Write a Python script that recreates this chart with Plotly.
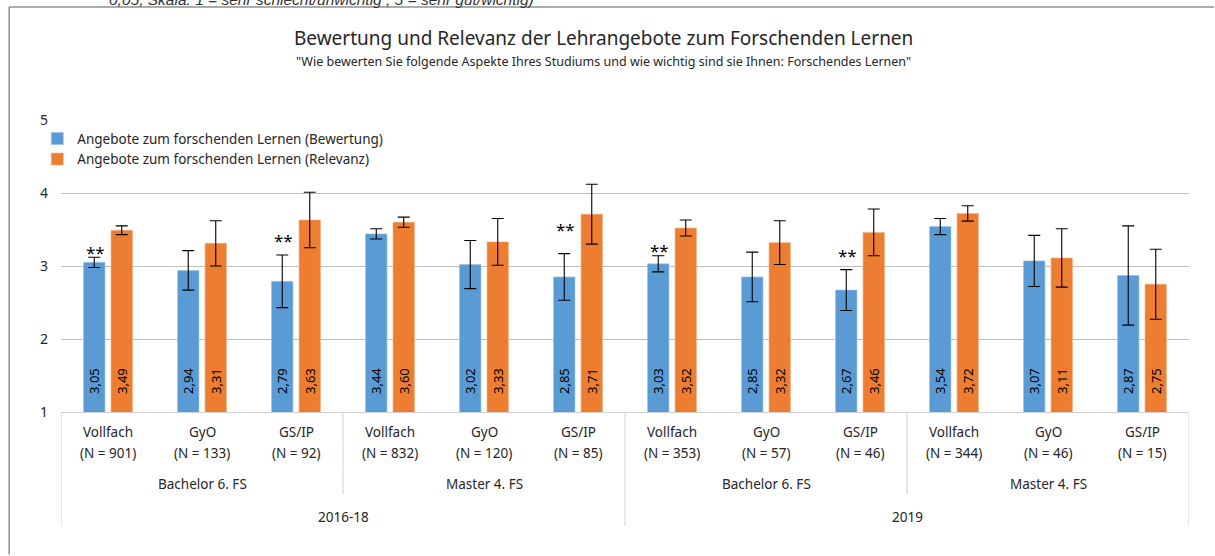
import plotly.graph_objects as go

# Daten
kategorien = ["Vollfach", "GyO", "GS/IP"] * 4
n_werte = [901, 133, 92, 832, 120, 85, 353, 57, 46, 344, 46, 15]
studiengang = ["Bachelor 6. FS", "Master 4. FS", "Bachelor 6. FS", "Master 4. FS"]
jahrgang = ["2016-18", "2019"]

bewertung = [3.05, 2.94, 2.79, 3.44, 3.02, 2.85, 3.03, 2.85, 2.67, 3.54, 3.07, 2.87]
relevanz = [3.49, 3.31, 3.63, 3.60, 3.33, 3.71, 3.52, 3.32, 3.46, 3.72, 3.11, 2.75]
bewertung_ci = [0.07, 0.27, 0.36, 0.07, 0.33, 0.32, 0.11, 0.34, 0.28, 0.11, 0.35, 0.68]
relevanz_ci = [0.06, 0.31, 0.38, 0.07, 0.32, 0.41, 0.11, 0.30, 0.32, 0.105, 0.40, 0.48]

# Signifikanz-Sterne (Höhe der Sterne über den Bewertungsbalken)
stern_y = [3.20, None, 3.36, None, None, 3.51, 3.22, None, 3.16, None, None, None]

y_ticks = [1, 2, 3, 4, 5]

BLAU = "#5B9BD5"
ORANGE = "#ED7D31"
FONT = "Noto Sans"
TEXT = "#262626"

x = list(range(len(kategorien)))


def fmt(v):
    return f"{v:.2f}".replace(".", ",")


fig = go.Figure()

fig.add_trace(go.Bar(
    x=x, y=bewertung, name="Angebote zum forschenden Lernen (Bewertung)",
    marker=dict(color=BLAU, line=dict(color="#9DC3E6", width=0.6)),
    error_y=dict(type="data", array=bewertung_ci, color="black", thickness=1.1, width=6),
))
fig.add_trace(go.Bar(
    x=x, y=relevanz, name="Angebote zum forschenden Lernen (Relevanz)",
    marker=dict(color=ORANGE, line=dict(color="#F4B183", width=0.6)),
    error_y=dict(type="data", array=relevanz_ci, color="black", thickness=1.1, width=6),
))

# Datenbeschriftungen (gedreht, am Balkenfuß)
for i in x:
    for val, shift in [(bewertung[i], -14), (relevanz[i], 14)]:
        fig.add_annotation(
            x=i, y=1, xref="x", yref="y", text=fmt(val), textangle=-90,
            showarrow=False, xshift=shift, yshift=16, yanchor="bottom", xanchor="center",
            font=dict(family=FONT, size=13, color="black"),
        )
    if stern_y[i] is not None:
        fig.add_annotation(
            x=i, y=stern_y[i], xref="x", yref="y", text="**", showarrow=False,
            xshift=-13, yshift=-1, xanchor="center", yanchor="middle",
            font=dict(family=FONT, size=17, color="black"),
        )


def achsentext(xpos, ypos, text):
    fig.add_annotation(x=xpos, y=ypos, xref="x", yref="paper", text=text,
                       showarrow=False, xanchor="center", yanchor="middle",
                       font=dict(family=FONT, size=13.5, color=TEXT))


# Kategorienachse (drei Ebenen)
for i in x:
    achsentext(i, -0.0685, kategorien[i])
    achsentext(i, -0.1394, f"(N = {n_werte[i]})")
for g, name in enumerate(studiengang):
    achsentext(g * 3 + 1, -0.2466, name)
for j, name in enumerate(jahrgang):
    achsentext(j * 6 + 2.5, -0.3596, name)

# Trennlinien
LINIE = "#D0D0D0"
for pos in [-0.5, 5.5, 11.5]:
    fig.add_shape(type="line", xref="x", yref="paper", x0=pos, x1=pos, y0=0, y1=-0.39,
                  line=dict(color=LINIE, width=1))
for pos in [2.5, 8.5]:
    fig.add_shape(type="line", xref="x", yref="paper", x0=pos, x1=pos, y0=0, y1=-0.281,
                  line=dict(color=LINIE, width=1))

# Rahmen des Diagrammbereichs (oben und links sichtbar, rechts/unten außerhalb des Bildes)
RAHMEN = dict(color="#595959", width=1)
fig.add_shape(type="line", xref="paper", yref="paper", x0=-0.046, x1=1.022, y0=1.387, y1=1.387,
              line=RAHMEN, layer="below")
fig.add_shape(type="line", xref="paper", yref="paper", x0=-0.046, x1=-0.046, y0=1.387, y1=-0.488,
              line=RAHMEN, layer="below")

# Titel und Untertitel
fig.add_annotation(x=0.481, y=1.281, xref="paper", yref="paper", showarrow=False,
                   xanchor="center", yanchor="middle",
                   text="Bewertung und Relevanz der Lehrangebote zum Forschenden Lernen",
                   font=dict(family=FONT, size=19, color=TEXT))
fig.add_annotation(x=0.481, y=1.202, xref="paper", yref="paper", showarrow=False,
                   xanchor="center", yanchor="middle",
                   text="\"Wie bewerten Sie folgende Aspekte Ihres Studiums und wie wichtig sind sie Ihnen: Forschendes Lernen\"",
                   font=dict(family=FONT, size=12.5, color=TEXT))
# abgeschnittene Fußnote oben (wie im Original angeschnitten)
fig.add_annotation(x=0.231, y=1.414, xref="paper", yref="paper", showarrow=False,
                   xanchor="center", yanchor="middle",
                   text="<i>0,05; Skala: 1 = sehr schlecht/unwichtig ; 5 = sehr gut/wichtig)</i>",
                   font=dict(family="Liberation Sans", size=15.5, color="#333333"))

fig.update_xaxes(
    range=[-0.5, 11.5], showticklabels=False, showgrid=False, zeroline=False,
    showline=True, linecolor=LINIE, linewidth=1, ticks="",
)
fig.update_yaxes(
    range=[1, 5], tickvals=y_ticks, showgrid=True, gridcolor="#BFBFBF", gridwidth=1,
    zeroline=False, showline=False, ticks="", ticklabelstandoff=12,
    tickfont=dict(family=FONT, size=14, color=TEXT),
)

fig.update_layout(
    width=1215, height=556,
    margin=dict(l=61, r=26, t=120, b=144, pad=0),
    barmode="group", bargap=0.415, bargroupgap=0.22,
    plot_bgcolor="white", paper_bgcolor="white",
    showlegend=True,
    legend=dict(x=-0.021, y=0.989, xanchor="left", yanchor="top",
                font=dict(family=FONT, size=13.5, color=TEXT),
                bgcolor="rgba(0,0,0,0)", tracegroupgap=0, itemwidth=30),
    font=dict(family=FONT, color=TEXT),
)

# Seitenränder und Scrollbalken entfernen
fig.write_html(
    "out.html",
    config={"displayModeBar": False},
    post_script=(
        "var s = document.createElement('style');"
        "s.textContent = 'html,body{margin:0;padding:0;overflow:hidden;"
        "scrollbar-width:none;width:1215px;height:556px;}"
        "::-webkit-scrollbar{display:none;width:0;height:0;}';"
        "document.head.appendChild(s);"
    ),
)
